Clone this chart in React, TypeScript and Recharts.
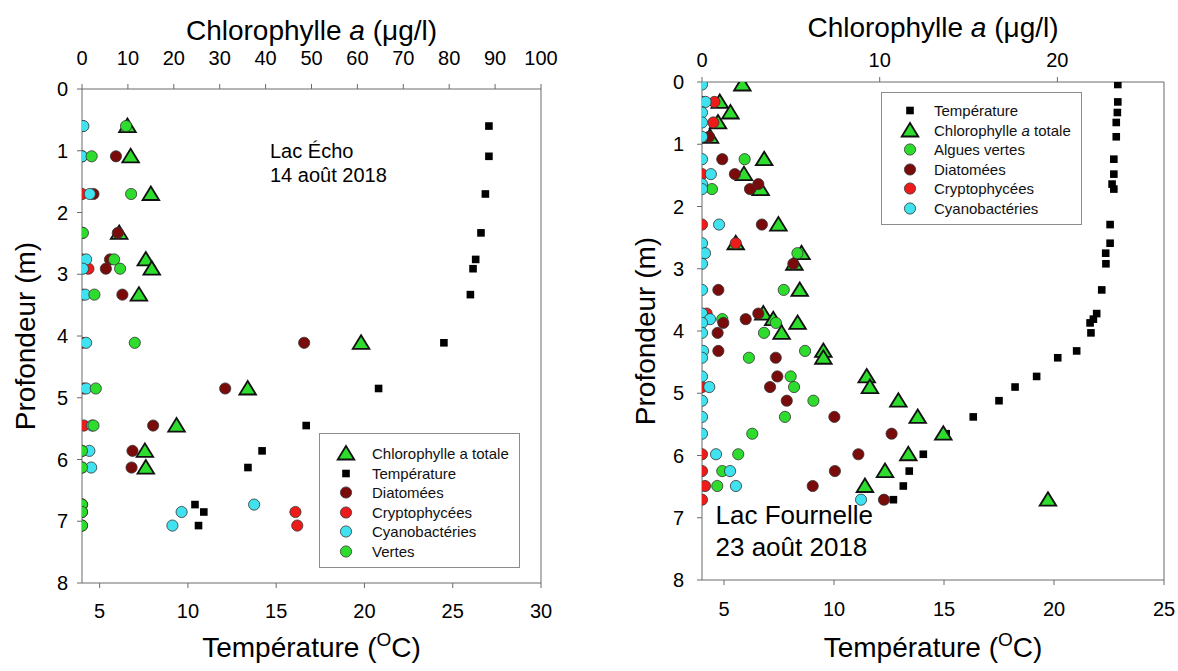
import React from "react";
import { ScatterChart, Scatter, XAxis, YAxis, Label, Legend } from "recharts";

const FONT = '"Liberation Sans", Arial, Helvetica, sans-serif';

const DEPTH_TICKS = [0, 1, 2, 3, 4, 5, 6, 7, 8];

// Lac Écho, 14 août 2018
const ECHO_DEPTH = [0.6, 1.09, 1.7, 2.33, 2.76, 2.91, 3.33, 4.11, 4.85, 5.45, 5.86, 6.13, 6.73, 6.85, 7.07];
const ECHO_TEMP = [27.05, 27.05, 26.85, 26.6, 26.3, 26.15, 26.0, 24.5, 20.8, 16.7, 14.2, 13.4, 10.4, 10.9, 10.6];
const ECHO_CHL_TOTALE = [9.9, 10.6, 15.0, 8.1, 13.9, 15.2, 12.4, 60.8, 36.1, 20.6, 13.7, 13.9, null, null, null];
const ECHO_DIATOMEES = [0, 7.4, 2.5, 7.8, 6.1, 5.2, 8.8, 48.4, 31.2, 15.5, 11.0, 10.8, 0, 0, 0];
const ECHO_CRYPTO = [0, 0, 0, 0, 0, 1.4, 0, 0, 0.4, 0.4, 0, 0, 0, 46.5, 46.9];
const ECHO_CYANO = [0.3, 0, 1.7, 0, 0.9, 0.2, 0.7, 0.9, 0.9, 2.2, 1.6, 2.0, 37.5, 21.7, 19.7];
const ECHO_VERTES = [9.6, 2.1, 10.7, 0.2, 7.0, 8.3, 2.7, 11.5, 3.0, 2.5, 0, 0, 0, 0, 0];
const ECHO_CHL_TICKS = [0, 10, 20, 30, 40, 50, 60, 70, 80, 90, 100];
const ECHO_TEMP_TICKS = [5, 10, 15, 20, 25, 30];

// Lac Fournelle, 23 août 2018
const FOUR_DEPTH = [0.04, 0.32, 0.49, 0.65, 0.88, 1.24, 1.48, 1.64, 1.72, 2.29, 2.59, 2.75, 2.92, 3.34, 3.72, 3.81, 3.87, 4.03, 4.32, 4.43, 4.73, 4.9, 5.12, 5.38, 5.65, 5.98, 6.25, 6.49, 6.71];
const FOUR_TEMP = [22.9, 22.9, 22.88, 22.83, 22.83, 22.72, 22.72, 22.64, 22.72, 22.55, 22.55, 22.35, 22.36, 22.17, 21.94, 21.79, 21.64, 21.68, 21.03, 20.17, 19.21, 18.23, 17.5, 16.33, 15.1, 14.06, 13.42, 13.15, 12.7];
const FOUR_CHL_TOTALE = [2.27, 1.0, 1.6, 0.9, 0.45, 3.5, 2.36, null, 3.3, 4.3, 1.9, 5.6, 5.2, 5.5, 3.45, 4.01, 5.38, 4.48, 6.83, 6.83, 9.27, 9.45, 11.05, 12.14, 13.58, 11.61, 10.3, 9.17, 19.47];
const FOUR_VERTES = [null, null, null, null, null, 2.4, null, null, 0.56, null, null, 5.37, null, 4.6, null, 1.14, 4.16, 3.49, 5.8, 2.64, 4.99, 5.18, 6.27, 4.67, 2.83, 2.04, 1.14, 0.86, null];
const FOUR_DIATOMEES = [null, 0, null, null, 0.4, 1.14, 1.85, 3.17, 2.7, 3.37, null, null, 5.14, 0.92, 3.17, 2.46, 1.2, 0.88, 0.92, 4.15, 4.24, 3.83, 4.77, 7.45, 10.67, 8.8, 7.48, 6.23, 10.24];
const FOUR_CRYPTO = [null, 0.7, null, 0.64, null, null, 0, null, null, 0, 1.9, 0, null, null, 0.26, null, null, null, null, null, null, 0, null, null, null, 0, 0, 0.17, 0];
const FOUR_CYANO = [0, 0.2, 0, 0, 0, 0, 0.5, 0, 0, 0.96, 0, 0.17, 0, 0, 0, 0.45, 0, 0, 0.06, 0, 0, 0.41, 0, 0, 0, 0.79, 1.58, 1.91, 8.95];
const FOUR_CHL_TICKS = [0, 10, 20];
const FOUR_TEMP_TICKS = [5, 10, 15, 20, 25];

const GREEN = "#2ddc2d";
const DIAT = "#7a0b0b";
const CRYPT = "#ee1b1b";
const CYAN = "#3fe2ee";
const AXIS = "#6a6a6a";

type Pt = { x: number; y: number };

const pts = (vals: (number | null)[], depth: number[]): Pt[] =>
  vals.flatMap((v, i) => (v == null ? [] : [{ x: v, y: depth[i] }]));

function TriangleMark({ cx, cy }: any) {
  if (cx == null || cy == null) return <g />;
  return (
    <polygon
      points={`${cx},${cy - 7.5} ${cx - 8.3},${cy + 6} ${cx + 8.3},${cy + 6}`}
      fill={GREEN} stroke="#111" strokeWidth={1.8}
    />
  );
}

function SquareMark({ cx, cy }: any) {
  if (cx == null || cy == null) return <g />;
  return <rect x={cx - 3.8} y={cy - 3.8} width={7.6} height={7.6} fill="#000" />;
}

const dot = (fill: string) => ({ cx, cy }: any) => {
  if (cx == null || cy == null) return <g />;
  return <circle cx={cx} cy={cy} r={5.6} fill={fill} stroke="#333" strokeWidth={0.8} />;
};

const Diatom = dot(DIAT);
const Crypto = dot(CRYPT);
const Cyano = dot(CYAN);
const Verte = dot(GREEN);

function LegendIcon({ kind }: { kind: string }) {
  const cx = 13, cy = 9.5;
  if (kind === "tri") return <TriangleMark cx={cx} cy={cy} />;
  if (kind === "sq") return <SquareMark cx={cx} cy={cy} />;
  const fill = kind === "diat" ? DIAT : kind === "crypt" ? CRYPT : kind === "cyan" ? CYAN : GREEN;
  return <circle cx={cx} cy={cy} r={5.6} fill={fill} stroke="#333" strokeWidth={0.8} />;
}

function LegendBox({ items, padTop, iconLeft, textLeft }: {
  items: { kind: string; label: React.ReactNode }[];
  padTop: number; iconLeft: number; textLeft: number;
}) {
  return (
    <div style={{
      boxSizing: "border-box", width: "100%", height: "100%",
      border: "1px solid #8c8c8c", background: "#fff",
      paddingTop: padTop, fontFamily: FONT, fontSize: 15, color: "#111",
    }}>
      {items.map((it, i) => (
        <div key={i} style={{ position: "relative", height: 19.5, lineHeight: "19.5px" }}>
          <svg width={26} height={19} style={{ position: "absolute", left: iconLeft - 13, top: 0, overflow: "visible" }}>
            <LegendIcon kind={it.kind} />
          </svg>
          <span style={{ position: "absolute", left: textLeft, top: 0, whiteSpace: "nowrap" }}>{it.label}</span>
        </div>
      ))}
    </div>
  );
}

const chlTitle = (cx: number, baseline: number) => () => (
  <text x={cx} y={baseline} textAnchor="middle" fontSize={28} fill="#000" fontFamily={FONT}>
    Chlorophylle <tspan fontStyle="italic">a</tspan> (μg/l)
  </text>
);

const tempTitle = (cx: number, baseline: number) => () => (
  <text x={cx} y={baseline} textAnchor="middle" fontSize={28} fill="#000" fontFamily={FONT}>
    Température (<tspan dy={-11} fontSize={19}>O</tspan><tspan dy={11}>C)</tspan>
  </text>
);

const depthTitle = (x: number, cy: number) => () => (
  <text x={x} y={cy} transform={`rotate(-90, ${x}, ${cy})`} textAnchor="middle" fontSize={28} fill="#000" fontFamily={FONT}>
    Profondeur (m)
  </text>
);

const tickStyle = { fontSize: 20, fill: "#000", fontFamily: FONT };

function EchoChart() {
  return (
    <ScatterChart width={600} height={671} margin={{ top: 0, right: 58, bottom: 0, left: 22 }} style={{ fontFamily: FONT }}>
      <XAxis xAxisId="chl" orientation="top" type="number" dataKey="x" domain={[0, 100]} allowDataOverflow
        ticks={ECHO_CHL_TICKS} interval={0} height={89} tick={tickStyle} tickSize={5} tickMargin={19}
        axisLine={{ stroke: AXIS }} tickLine={{ stroke: AXIS }}>
        <Label content={chlTitle(311.5, 40)} />
      </XAxis>
      <XAxis xAxisId="temp" orientation="bottom" type="number" dataKey="x" domain={[4, 30]} allowDataOverflow
        ticks={ECHO_TEMP_TICKS} interval={0} height={88} tick={tickStyle} tickSize={5} tickMargin={16}
        axisLine={{ stroke: AXIS }} tickLine={{ stroke: AXIS }}>
        <Label content={tempTitle(311.5, 657)} />
      </XAxis>
      <YAxis yAxisId="d" type="number" dataKey="y" domain={[0, 8]} reversed allowDataOverflow
        ticks={DEPTH_TICKS} interval={0} width={60} tick={tickStyle} tickSize={5} tickMargin={9}
        axisLine={{ stroke: AXIS }} tickLine={{ stroke: AXIS }}>
        <Label content={depthTitle(35, 336)} />
      </YAxis>
      <YAxis yAxisId="frame" orientation="right" type="number" domain={[0, 8]} width={1}
        tick={false} tickLine={false} axisLine={{ stroke: AXIS }} />

      <Scatter name="Chlorophylle a totale" xAxisId="chl" yAxisId="d" data={pts(ECHO_CHL_TOTALE, ECHO_DEPTH)} shape={TriangleMark} isAnimationActive={false} />
      <Scatter name="Température" xAxisId="temp" yAxisId="d" data={pts(ECHO_TEMP, ECHO_DEPTH)} shape={SquareMark} isAnimationActive={false} />
      <Scatter name="Diatomées" xAxisId="chl" yAxisId="d" data={pts(ECHO_DIATOMEES, ECHO_DEPTH)} shape={Diatom} isAnimationActive={false} />
      <Scatter name="Cryptophycées" xAxisId="chl" yAxisId="d" data={pts(ECHO_CRYPTO, ECHO_DEPTH)} shape={Crypto} isAnimationActive={false} />
      <Scatter name="Cyanobactéries" xAxisId="chl" yAxisId="d" data={pts(ECHO_CYANO, ECHO_DEPTH)} shape={Cyano} isAnimationActive={false} />
      <Scatter name="Vertes" xAxisId="chl" yAxisId="d" data={pts(ECHO_VERTES, ECHO_DEPTH)} shape={Verte} isAnimationActive={false} />

      <Legend layout="horizontal" verticalAlign="middle" align="center"
        wrapperStyle={{ left: 319, top: 433, width: 201, height: 135 }}
        content={() => (
          <LegendBox padTop={10} iconLeft={26} textLeft={52} items={[
            { kind: "tri", label: "Chlorophylle a totale" },
            { kind: "sq", label: "Température" },
            { kind: "diat", label: "Diatomées" },
            { kind: "crypt", label: "Cryptophycées" },
            { kind: "cyan", label: "Cyanobactéries" },
            { kind: "vert", label: "Vertes" },
          ]} />
        )} />
    </ScatterChart>
  );
}

function FournelleChart() {
  return (
    <ScatterChart width={558} height={671} margin={{ top: 0, right: 13, bottom: 0, left: 22 }} style={{ fontFamily: FONT }}>
      <XAxis xAxisId="chl" orientation="top" type="number" dataKey="x" domain={[0, 26]} allowDataOverflow
        ticks={FOUR_CHL_TICKS} interval={0} height={82} tick={tickStyle} tickSize={5} tickMargin={10}
        axisLine={{ stroke: AXIS }} tickLine={{ stroke: AXIS }}>
        <Label content={chlTitle(313, 37)} />
      </XAxis>
      <XAxis xAxisId="temp" orientation="bottom" type="number" dataKey="x" domain={[4, 25]} allowDataOverflow
        ticks={FOUR_TEMP_TICKS} interval={0} height={91} tick={tickStyle} tickSize={5} tickMargin={17}
        axisLine={{ stroke: AXIS }} tickLine={{ stroke: AXIS }}>
        <Label content={tempTitle(313, 657)} />
      </XAxis>
      <YAxis yAxisId="d" type="number" dataKey="y" domain={[0, 8]} reversed allowDataOverflow
        ticks={DEPTH_TICKS} interval={0} width={60} tick={tickStyle} tickSize={5} tickMargin={13}
        axisLine={{ stroke: AXIS }} tickLine={{ stroke: AXIS }}>
        <Label content={depthTitle(35, 331)} />
      </YAxis>
      <YAxis yAxisId="frame" orientation="right" type="number" domain={[0, 8]} width={1}
        tick={false} tickLine={false} axisLine={{ stroke: AXIS }} />

      <Scatter name="Température" xAxisId="temp" yAxisId="d" data={pts(FOUR_TEMP, FOUR_DEPTH)} shape={SquareMark} isAnimationActive={false} />
      <Scatter name="Chlorophylle a totale" xAxisId="chl" yAxisId="d" data={pts(FOUR_CHL_TOTALE, FOUR_DEPTH)} shape={TriangleMark} isAnimationActive={false} />
      <Scatter name="Algues vertes" xAxisId="chl" yAxisId="d" data={pts(FOUR_VERTES, FOUR_DEPTH)} shape={Verte} isAnimationActive={false} />
      <Scatter name="Diatomées" xAxisId="chl" yAxisId="d" data={pts(FOUR_DIATOMEES, FOUR_DEPTH)} shape={Diatom} isAnimationActive={false} />
      <Scatter name="Cryptophycées" xAxisId="chl" yAxisId="d" data={pts(FOUR_CRYPTO, FOUR_DEPTH)} shape={Crypto} isAnimationActive={false} />
      <Scatter name="Cyanobactéries" xAxisId="chl" yAxisId="d" data={pts(FOUR_CYANO, FOUR_DEPTH)} shape={Cyano} isAnimationActive={false} />

      <Legend layout="horizontal" verticalAlign="middle" align="center"
        wrapperStyle={{ left: 261, top: 92, width: 201, height: 133 }}
        content={() => (
          <LegendBox padTop={8} iconLeft={28} textLeft={52} items={[
            { kind: "sq", label: "Température" },
            { kind: "tri", label: <>Chlorophylle <i>a</i> totale</> },
            { kind: "vert", label: "Algues vertes" },
            { kind: "diat", label: "Diatomées" },
            { kind: "crypt", label: "Cryptophycées" },
            { kind: "cyan", label: "Cyanobactéries" },
          ]} />
        )} />
    </ScatterChart>
  );
}

export default function App() {
  return (
    <div style={{ position: "absolute", left: 0, top: 0, width: 1178, height: 671, background: "#fff", fontFamily: FONT }}>
      <div style={{ position: "absolute", left: 0, top: 0 }}>
        <EchoChart />
      </div>
      <div style={{ position: "absolute", left: 620, top: 0 }}>
        <FournelleChart />
      </div>
      <div style={{ position: "absolute", left: 270, top: 138.5, fontSize: 20, lineHeight: "24.4px", color: "#000", pointerEvents: "none" }}>
        Lac Écho<br />14 août 2018
      </div>
      <div style={{ position: "absolute", left: 715.5, top: 499, fontSize: 26, lineHeight: "32.4px", color: "#000", pointerEvents: "none" }}>
        Lac Fournelle<br />23 août 2018
      </div>
    </div>
  );
}
